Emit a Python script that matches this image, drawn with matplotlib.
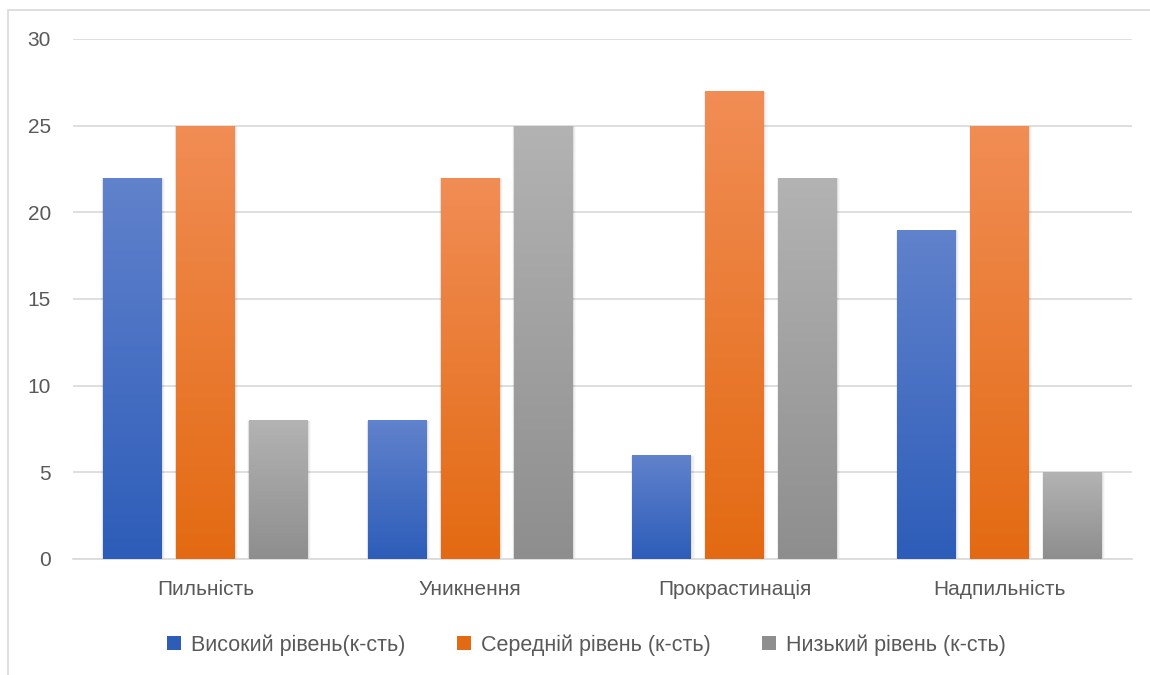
import numpy as np
import matplotlib
matplotlib.use("Agg")
import matplotlib.pyplot as plt
from matplotlib.patches import Rectangle
from matplotlib.colors import LinearSegmentedColormap

categories = ["Пильність", "Уникнення", "Прокрастинація", "Надпильність"]
series_names = ["Високий рівень(к-сть)", "Середній рівень (к-сть)", "Низький рівень (к-сть)"]
high = [22, 8, 6, 19]
mid = [25, 22, 27, 25]
low = [8, 25, 22, 5]
y_ticks = [0, 5, 10, 15, 20, 25, 30]

# top / bottom colours of the gradient fill
grads = [("#6182CC", "#2D5DB9"), ("#F18D55", "#E36A12"), ("#B3B3B3", "#8E8E8E")]

plt.rcParams['font.family'] = ['Liberation Sans', 'DejaVu Sans']

fig = plt.figure(figsize=(11.5, 6.75), dpi=100)
ax = fig.add_axes([73 / 1150, 1 - 559 / 675, (1132 - 73) / 1150, (559 - 39) / 675])

# outer chart border (cropped on right/bottom like the source)
fig.add_artist(Rectangle((8 / 1150, -0.1), 1.2, 1 - 10 / 675 + 0.1,
                         transform=fig.transFigure, fill=False,
                         edgecolor="#D9D9D9", linewidth=1.2))

x = np.arange(len(categories))
width = 0.2226
step = 0.2755

for i, vals in enumerate([high, mid, low]):
    top, bottom = grads[i]
    cmap = LinearSegmentedColormap.from_list("g%d" % i, [bottom, top])
    bars = ax.bar(x + (i - 1) * step, vals, width, color=bottom, label=series_names[i],
                  zorder=3, linewidth=0)
    for b in bars:
        bx, bw, bh = b.get_x(), b.get_width(), b.get_height()
        # soft shadow
        for k, a in enumerate([0.06, 0.04, 0.025]):
            d = 0.004 * (k + 1)
            ax.add_patch(Rectangle((bx - d * 0.5, -0.12 * (k + 1)), bw + d * 1.5, bh + 0.1 * (k + 1),
                                   facecolor="black", alpha=a, linewidth=0, zorder=2))
        grad = np.linspace(0, 1, 256).reshape(-1, 1)
        im = ax.imshow(grad, cmap=cmap, origin="lower", aspect="auto",
                       extent=[bx, bx + bw, 0, bh], zorder=3.5)
        im.set_clip_path(b)

ax.set_xlim(-0.5, 3.5)
ax.set_ylim(0, 30)
ax.set_yticks(y_ticks)
ax.set_xticks(x)
ax.set_xticklabels(categories)
ax.grid(axis="y", color="#D9D9D9", linewidth=1.2, zorder=0)
ax.set_axisbelow(True)
for s in ["top", "right", "left"]:
    ax.spines[s].set_visible(False)
ax.spines["bottom"].set_color("#D9D9D9")
ax.spines["bottom"].set_linewidth(1.2)
ax.tick_params(axis="both", length=0, labelsize=15, colors="#595959")
ax.tick_params(axis="y", pad=16)
ax.tick_params(axis="x", pad=15)

handles = [Rectangle((0, 0), 1, 1, facecolor=g[1], edgecolor="none") for g in grads]
fig.legend(handles, series_names, loc="center", bbox_to_anchor=(0.51, 1 - 645 / 675),
           ncol=3, frameon=False, fontsize=15.5, labelcolor="#595959",
           handlelength=0.65, handleheight=0.65, handletextpad=0.45, columnspacing=2.4)

fig.savefig("out.png", dpi=100)
